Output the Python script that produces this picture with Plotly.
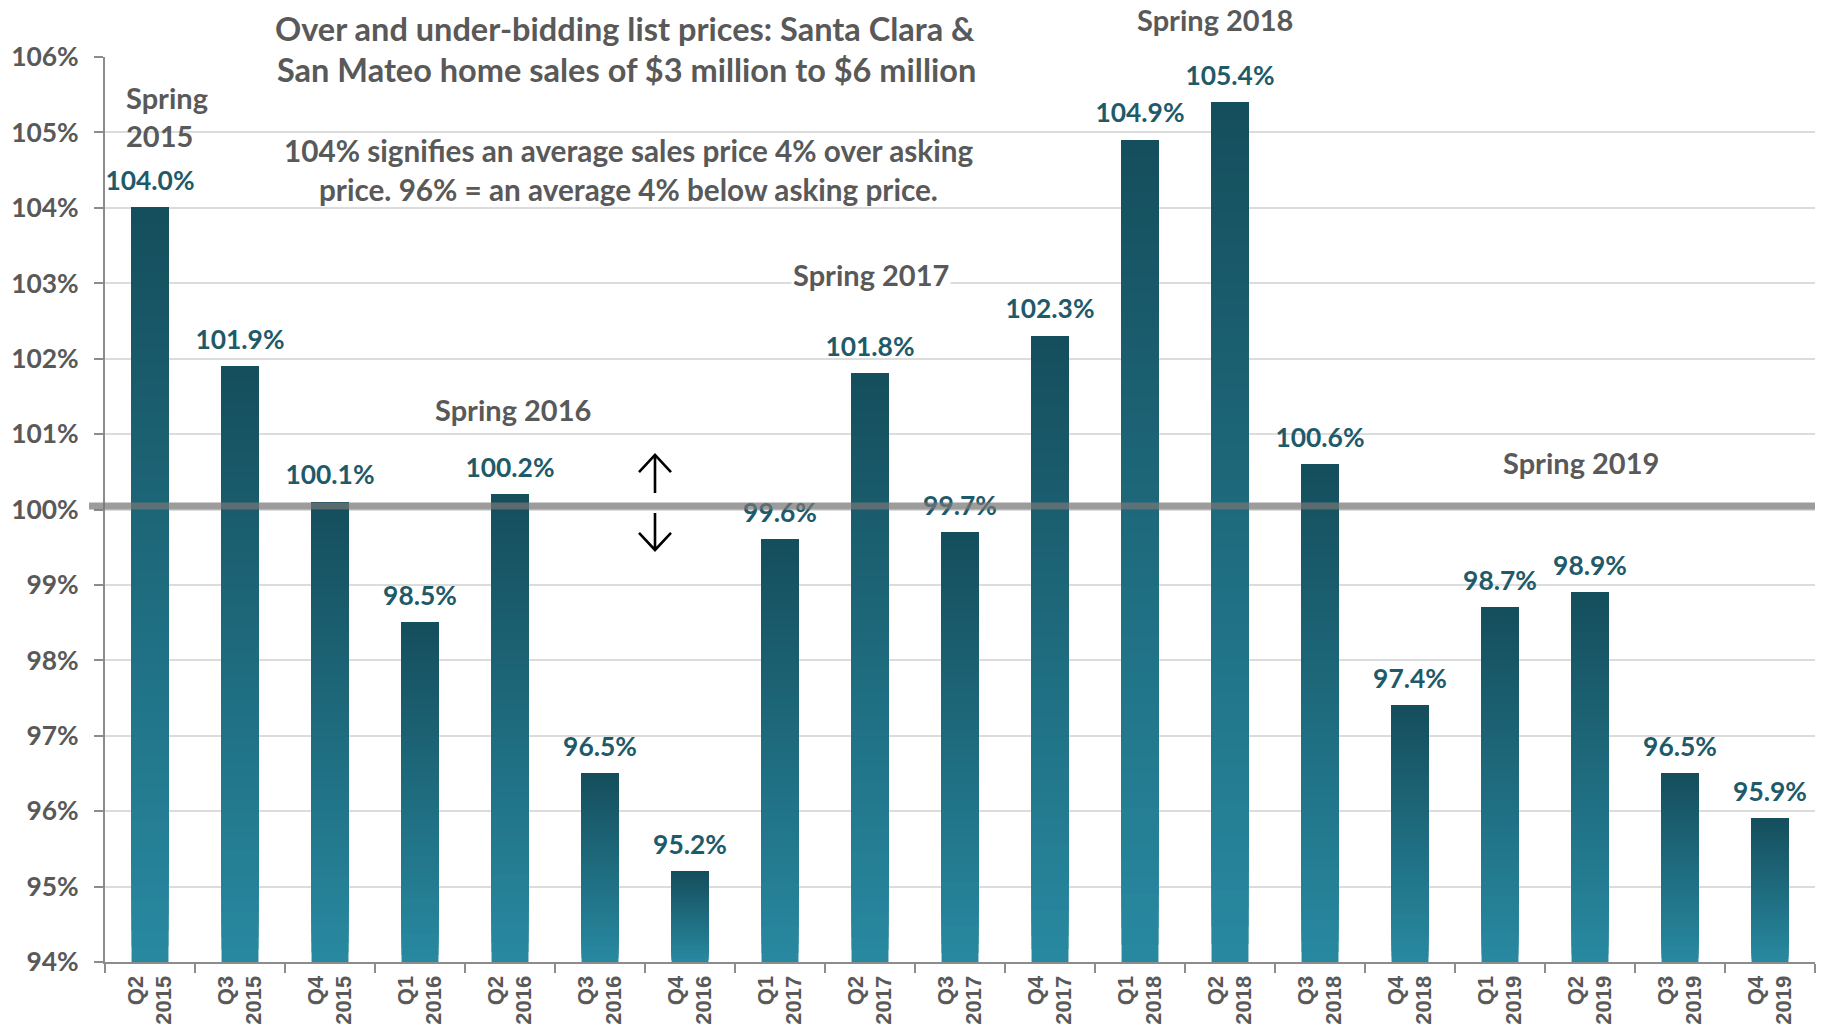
import plotly.graph_objects as go

quarters = ["Q2", "Q3", "Q4", "Q1", "Q2", "Q3", "Q4", "Q1", "Q2", "Q3", "Q4",
            "Q1", "Q2", "Q3", "Q4", "Q1", "Q2", "Q3", "Q4"]
years = ["2015", "2015", "2015", "2016", "2016", "2016", "2016", "2017", "2017", "2017",
         "2017", "2018", "2018", "2018", "2018", "2019", "2019", "2019", "2019"]
values = [104.0, 101.9, 100.1, 98.5, 100.2, 96.5, 95.2, 99.6, 101.8, 99.7, 102.3,
          104.9, 105.4, 100.6, 97.4, 98.7, 98.9, 96.5, 95.9]

categories = [f"{q}<br>{y}" for q, y in zip(quarters, years)]
labels = [f"{v:.1f}%" for v in values]

Y_MIN, Y_MAX = 94, 106
TOP = (21, 78, 92)
BOTTOM = (40, 137, 161)
GRAY = "#595959"
LABEL_COLOR = "#1e5a69"
FONT = "Lato"

W, H = 1827, 1033
ML, MR, MT, MB = 105, 12, 57, 71
PW, PH = W - ML - MR, H - MT - MB


def px_to_paper_x(px):
    return (px - ML) / PW


def px_to_paper_y(py):
    return 1 - (py - MT) / PH


fig = go.Figure()

N = 48
for k in range(N):
    f = k / N
    t = (k + 0.5) / N
    col = tuple(round(BOTTOM[i] + (TOP[i] - BOTTOM[i]) * t) for i in range(3))
    base = [Y_MIN + (v - Y_MIN) * f for v in values]
    hts = [v - b for v, b in zip(values, base)]
    fig.add_trace(go.Bar(
        x=categories, y=hts, base=base, width=0.41,
        marker=dict(color=f"rgb{col}", line=dict(width=0)),
        hoverinfo="skip", showlegend=False,
    ))

fig.add_trace(go.Scatter(
    x=categories, y=values, mode="markers+text", text=labels,
    textposition="top center",
    marker=dict(size=16, color="rgba(0,0,0,0)"),
    textfont=dict(family=FONT, size=26.4, color=LABEL_COLOR, weight="bold"),
    cliponaxis=False, hoverinfo="skip", showlegend=False,
))

# white box behind title text (hides gridlines)
fig.add_shape(type="rect", xref="paper", yref="paper",
              x0=px_to_paper_x(257), x1=px_to_paper_x(1010),
              y0=px_to_paper_y(216), y1=px_to_paper_y(0),
              fillcolor="white", line=dict(width=0), layer="between")

# 100% reference line
fig.add_shape(type="line", xref="paper", yref="y",
              x0=px_to_paper_x(89), x1=1, y0=100.045, y1=100.045,
              line=dict(color="rgba(118,118,118,0.72)", width=7), layer="above")

# up / down arrows
ax = px_to_paper_x(655)
dx = 16 / PW
for shaft0, tip, headbase in [(100.219, 100.723, 100.497), (99.954, 99.463, 99.689)]:
    fig.add_shape(type="path", xref="paper", yref="y",
                  path=f"M {ax},{shaft0} L {ax},{tip} M {ax-dx},{headbase} L {ax},{tip} L {ax+dx},{headbase}",
                  line=dict(color="black", width=2.6), layer="above")

title_lines = [
    ("Over and under-bidding list prices: Santa Clara &", 625, 28, 32.5),
    ("San Mateo home sales of $3 million to $6 million", 626, 69, 32.5),
    ("104% signifies an average sales price 4% over asking", 628, 150, 29.7),
    ("price. 96% = an average 4% below asking price.", 628, 189, 29.7),
]
for txt, cx, cy, fs in title_lines:
    fig.add_annotation(text=txt, xref="paper", yref="paper",
                       x=px_to_paper_x(cx), y=px_to_paper_y(cy),
                       xanchor="center", yanchor="middle", showarrow=False,
                       font=dict(family=FONT, size=fs, color=GRAY, weight="bold"))

spring_notes = [
    ("Spring<br>2015", -0.29, "y", 105.21, "left", None),
    ("Spring 2016", 4.03, "y", 101.33, "center", None),
    ("Spring 2017", 8.01, "y", 103.11, "center", "white"),
    ("Spring 2018", 11.83, "paper", px_to_paper_y(20), "center", None),
    ("Spring 2019", 15.9, "y", 100.62, "center", None),
]
for txt, xi, yref, yv, anchor, bg in spring_notes:
    fig.add_annotation(text=txt, x=xi, y=yv, xref="x", yref=yref,
                       xanchor=anchor, yanchor="middle", align="left",
                       showarrow=False, bgcolor=bg,
                       font=dict(family=FONT, size=29, color=GRAY, weight="bold"))

fig.update_layout(
    width=W, height=H, margin=dict(l=ML, r=MR, t=MT, b=MB, autoexpand=False),
    plot_bgcolor="white", paper_bgcolor="white", barmode="overlay",
    showlegend=False,
)
fig.update_xaxes(
    type="category", range=[-0.5, len(categories) - 0.5], automargin=False,
    tickangle=-90, tickson="boundaries",
    ticks="outside", ticklen=9, tickwidth=2, tickcolor="#8c8c8c",
    showline=True, linecolor="#8c8c8c", linewidth=2, showgrid=False,
    tickfont=dict(family="Liberation Sans", size=22, color=GRAY, weight="bold"),
    ticklabelstandoff=3,
)
fig.update_yaxes(
    range=[Y_MIN, Y_MAX], dtick=1, ticksuffix="%", automargin=False,
    ticks="outside", ticklen=9, tickwidth=2, tickcolor="#8c8c8c",
    showline=True, linecolor="#8c8c8c", linewidth=2,
    showgrid=True, gridcolor="#dcdcdc", gridwidth=2, zeroline=False,
    tickfont=dict(family=FONT, size=26.4, color=GRAY, weight="bold"),
    ticklabelstandoff=10,
)

fig.write_html("out.html", config={"displayModeBar": False},
               post_script="document.body.style.margin='0';document.body.style.overflow='hidden';")
